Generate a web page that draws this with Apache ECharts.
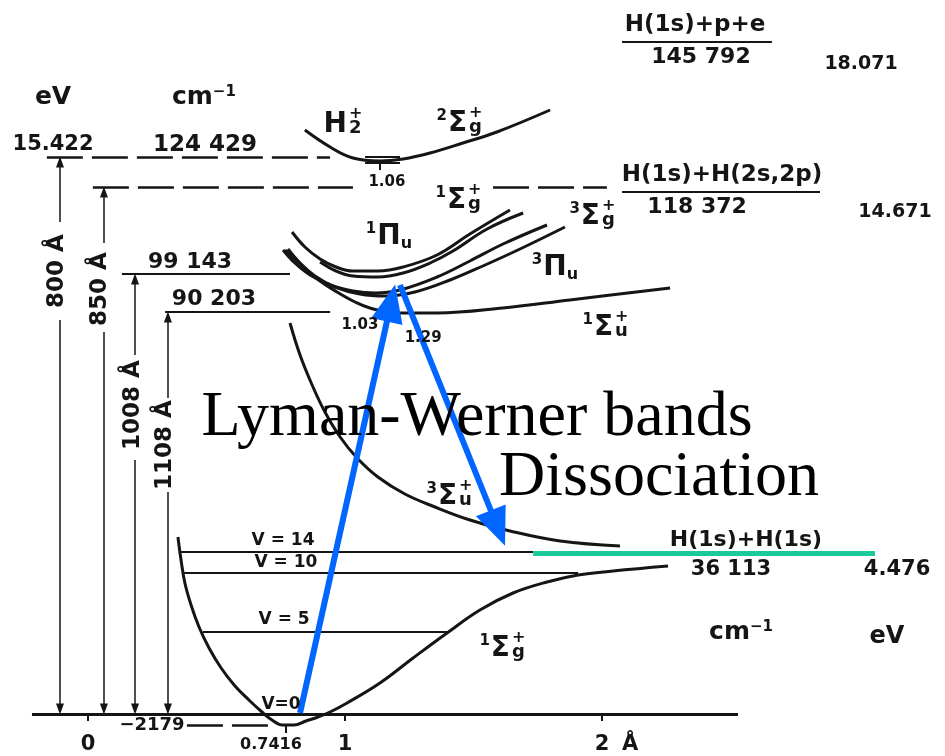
<!DOCTYPE html>
<html>
<head>
<meta charset="utf-8">
<title>H2 potential curves</title>
<script src="https://cdn.jsdelivr.net/npm/echarts@6/dist/echarts.min.js"></script>
<style>
  html, body { margin: 0; padding: 0; background: #fff; }
  #chart { width: 945px; height: 756px; }
</style>
</head>
<body>
<div id="chart"></div>
<script>
// x = internuclear distance (Å), y = energy above v=0 of the ground state (cm-1)
// values

var groundX = [[0.350, 39506], [0.362, 34373], [0.377, 29239], [0.401, 24329], [0.432, 19418],
  [0.471, 14731], [0.518, 10267], [0.572, 6250], [0.626, 3125], [0.677, 446], [0.716, -1339],
  [0.755, -2455], [0.802, -2455], [0.848, -1562], [0.895, -670], [0.942, 446], [1.008, 2455],
  [1.136, 6919], [1.265, 12499], [1.397, 18079], [1.525, 23213], [1.654, 27007], [1.786, 29462],
  [1.907, 31025], [2.043, 31918], [2.257, 33034]];
var tripletU = [[0.786, 87271], [0.825, 80129], [0.872, 73433], [0.922, 67406], [0.981, 61826],
  [1.047, 57139], [1.128, 52898], [1.233, 49104], [1.350, 46202], [1.486, 43301], [1.642, 40846],
  [1.837, 38614], [2.070, 37498]];
var singletSigmaU = [[0.767, 103565], [0.837, 99770], [0.903, 96646], [0.969, 94190], [1.039, 91958],
  [1.097, 90619], [1.202, 89503], [1.358, 89503], [1.615, 90619], [1.875, 92405], [2.265, 95083]];
var singletPiU = [[0.794, 107582], [0.844, 104234], [0.903, 101556], [0.965, 99770], [1.031, 98878],
  [1.128, 98878], [1.226, 99770], [1.358, 102449], [1.486, 107136], [1.642, 112493]];
var singletSigmaG = [[0.903, 100886], [0.965, 98878], [1.031, 97762], [1.128, 97538], [1.226, 98431],
  [1.331, 100663], [1.420, 103342], [1.553, 108252], [1.693, 111823]];
var tripletPiU = [[0.759, 103565], [0.805, 100663], [0.864, 97985], [0.942, 95753], [1.031, 94414],
  [1.117, 93967], [1.214, 94637], [1.358, 97538], [1.486, 101110], [1.615, 104904], [1.786, 109145]];
var tripletSigmaG = [[0.778, 103788], [0.825, 100663], [0.883, 97762], [0.961, 95306], [1.058, 93744],
  [1.156, 93298], [1.272, 94190], [1.409, 96869], [1.545, 100217], [1.681, 103788], [1.856, 108698]];
var ionCurve = [[0.844, 130349], [0.942, 126554], [1.031, 124099], [1.136, 123430], [1.226, 123876],
  [1.331, 125215], [1.459, 127447], [1.591, 129902], [1.798, 134813]];

// horizontal levels: [energy, from R, to R, width]
var solidLevels = [
  [0, -0.218, 2.529, 3],        // v = 0
  [36158, 0.362, 1.732, 2],     // v = 14
  [31471, 0.366, 1.907, 2],     // v = 10
  [18302, 0.447, 1.397, 2],     // v = 5
  [98208, 0.132, 0.786, 2],     // 99 143
  [89726, 0.300, 0.942, 2],     // 90 203
  [116510, 2.078, 2.848, 2],    // H(1s)+H(2s,2p)
  [149990, 2.078, 2.661, 2],    // H(1s)+p+e
  [124322, 1.078, 1.214, 2],    // H2+ v=0 box
  [122983, 1.078, 1.214, 2]
];
var dashedLevels = [
  [124322, -0.160, 0.942],
  [117626, 0.019, 1.031],
  [117626, 1.576, 2.019],
  [-2455, 0.385, 0.700]
];
var minTicks = [[1.136, 122983, 121421], [0.770, -2455, -4241]];

// wavelength arrows: x, top level, gap top, gap bottom
var arrowX = [-0.109, 0.062, 0.183, 0.311];
var arrowTopE = [124322, 117626, 98208, 89726];
var arrowGapTop = [109814, 105127, 80129, 70531];
var arrowGapBottom = [87941, 85262, 56693, 49550];
var arrowNames = ['800 Å', '850 Å', '1008 Å', '1108 Å'];
var arrowNameX = [-0.121, 0.047, 0.175, 0.300];
var arrowNameE = [98878, 94860, 68969, 60041];

var lymanArrow = [[0.825, 223], [1.179, 91735]];
var dissocArrow = [[1.214, 95753], [1.595, 41515]];
var dissocLimit = [[1.732, 35935], [3.062, 35935]];

var tickValues = [0, 1, 2];
var tickLabelE = -6919;

// plain texts: [text, R, E, size]
var texts = [
  ['eV', -0.136, 137714, 25], ['{n|cm}{s|−1}', 0.451, 137714, 25],
  ['15.422', -0.136, 127001, 21], ['124 429', 0.455, 127001, 23],
  ['99 143', 0.397, 100886, 22], ['90 203', 0.490, 92628, 22],
  ['H(1s)+p+e', 2.362, 153785, 23], ['145 792', 2.385, 146642, 22], ['18.071', 3.008, 145080, 19],
  ['H(1s)+H(2s,2p)', 2.467, 120305, 23], ['118 372', 2.370, 113162, 22], ['14.671', 3.140, 112046, 19],
  ['H(1s)+H(1s)', 2.560, 38837, 22], ['36 113', 2.502, 32141, 21], ['4.476', 3.148, 32141, 21],
  ['{n|cm}{s|−1}', 2.541, 18302, 24], ['eV', 3.109, 17186, 24],
  ['1.03', 1.058, 86825, 15], ['1.29', 1.304, 83923, 15], ['1.06', 1.163, 118742, 15],
  ['V = 14', 0.759, 38614, 17], ['V = 10', 0.770, 33703, 17], ['V = 5', 0.763, 20981, 17],
  ['V=0', 0.751, 2009, 17], ['−2179', 0.249, -2455, 18], ['0.7416', 0.712, tickLabelE, 16],
  ['Å', 2.109, tickLabelE, 21]
];

// term symbols: [left superscript, letter, upper right, lower right, R, E]
var terms = [
  ['1', 'Σ', '+', 'g', 1.471, 114502],
  ['3', 'Σ', '+', 'g', 1.992, 110930],
  ['1', 'Σ', '+', 'u', 2.043, 86155],
  ['3', 'Σ', '+', 'u', 1.436, 48434],
  ['1', 'Σ', '+', 'g', 1.642, 14508],
  ['2', 'Σ', '+', 'g', 1.475, 131688],
  ['', 'H', '+', '2', 1.008, 131465]
];
var piTerms = [['1', 'Π', 'u', 1.171, 106466], ['3', 'Π', 'u', 1.817, 99547]];

var bigTexts = [['Lyman-Werner bands', 1.514, 66067], ['Dissociation', 2.222, 52675]];

var FONT = 'DejaVu Sans';
var INK = '#151515';
var BLUE = '#0066ff';

var chart = echarts.init(document.getElementById('chart'));

function curve(pts) {
  return {
    type: 'line', data: pts, smooth: 0.4, symbol: 'none', clip: false, silent: true, z: 3,
    lineStyle: { color: INK, width: 3 }
  };
}

var richStyles = {
  n: { fontSize: 25, fontFamily: FONT, fontWeight: 'bold', color: INK },
  s: { fontSize: 15, fontFamily: FONT, fontWeight: 'bold', color: INK, verticalAlign: 'top' },
  a: { fontSize: 15, fontFamily: FONT, fontWeight: 'bold', color: INK, verticalAlign: 'top', padding: [0, 1, 0, 0] },
  b: { fontSize: 28, fontFamily: FONT, fontWeight: 'bold', color: INK, lineHeight: 30 },
  u: { fontSize: 16, fontFamily: FONT, fontWeight: 'bold', color: INK, verticalAlign: 'bottom' },
  p: { fontSize: 16, fontFamily: FONT, fontWeight: 'bold', color: INK, lineHeight: 13 },
  q: { fontSize: 18, fontFamily: FONT, fontWeight: 'bold', color: INK, lineHeight: 16 }
};

function textItem(t, r, e, size, extra) {
  var label = {
    show: true, position: 'inside', formatter: t, fontSize: size, fontFamily: FONT,
    fontWeight: 'bold', color: INK, align: 'center', verticalAlign: 'middle', rich: richStyles
  };
  if (extra) { for (var k in extra) { label[k] = extra[k]; } }
  return { value: [r, e], label: label };
}

var textData = texts.map(function (t) { return textItem(t[0], t[1], t[2], t[3]); });
tickValues.forEach(function (v) {
  textData.push(textItem(String(v), v, tickLabelE, 21));
});
arrowNames.forEach(function (n, i) {
  textData.push(textItem(n, arrowNameX[i], arrowNameE[i], 23, { rotate: 90 }));
});
terms.forEach(function (t) {
  var main = (t[0] ? '{a|' + t[0] + '}' : '') + '{b|' + t[1] + '}';
  textData.push(textItem(main, t[4], t[5], 28, { align: 'right' }));
  textData.push(textItem('{p|' + t[2] + '}\n{q|' + t[3] + '}', t[4], t[5], 16, { align: 'left', offset: [2, -3] }));
});
piTerms.forEach(function (t) {
  textData.push(textItem('{a|' + t[0] + '}{b|' + t[1] + '}{u|' + t[2] + '}', t[3], t[4], 28));
});
bigTexts.forEach(function (t) {
  textData.push(textItem(t[0], t[1], t[2], 64, { fontFamily: 'Liberation Serif', fontWeight: 'normal', color: '#000' }));
});

var levelLines = solidLevels.map(function (l) {
  return { coords: [[l[1], l[0]], [l[2], l[0]]], lineStyle: { width: l[3] } };
});
minTicks.forEach(function (t) {
  levelLines.push({ coords: [[t[0], t[1]], [t[0], t[2]]], lineStyle: { width: 2 } });
});
var dashLines = dashedLevels.map(function (l) {
  return { coords: [[l[1], l[0]], [l[2], l[0]]] };
});

var HEAD = 1100; // arrowhead half length, in cm-1
var arrowLines = [];
arrowX.forEach(function (x, i) {
  arrowLines.push({ coords: [[x, arrowGapTop[i]], [x, arrowTopE[i] - HEAD]] });
  arrowLines.push({ coords: [[x, arrowGapBottom[i]], [x, HEAD]] });
});

var option = {
  animation: false,
  grid: { left: 0, right: 0, top: 0, bottom: 0, containLabel: false, outerBoundsMode: 'none' },
  xAxis: {
    type: 'value', min: -0.3424, max: 3.3346,
    axisLine: { show: false, onZero: true },
    splitLine: { show: false },
    axisTick: { show: true, customValues: tickValues, length: 7, lineStyle: { color: INK, width: 2 } },
    axisLabel: { show: false }
  },
  yAxis: { type: 'value', min: -9374, max: 159365, show: false, splitLine: { show: false } },
  series: [
    curve(groundX), curve(tripletU), curve(singletSigmaU), curve(singletPiU), curve(singletSigmaG),
    curve(tripletPiU), curve(tripletSigmaG), curve(ionCurve),
    {
      type: 'lines', coordinateSystem: 'cartesian2d', data: levelLines, silent: true, z: 2,
      lineStyle: { color: INK, width: 2, opacity: 1 }
    },
    {
      type: 'lines', coordinateSystem: 'cartesian2d', data: dashLines, silent: true, z: 2,
      lineStyle: { color: INK, width: 2.5, type: [36, 9], opacity: 1 }
    },
    {
      type: 'lines', coordinateSystem: 'cartesian2d', data: arrowLines, silent: true, z: 2,
      symbol: ['none', 'triangle'], symbolSize: [[8, 11], [8, 11]],
      lineStyle: { color: INK, width: 1.5, opacity: 1 }
    },
    {
      type: 'lines', coordinateSystem: 'cartesian2d', data: [{ coords: dissocLimit }], silent: true, z: 4,
      lineStyle: { color: '#1cc99b', width: 5, opacity: 1 }
    },
    {
      type: 'lines', coordinateSystem: 'cartesian2d', silent: true, z: 6,
      data: [{ coords: lymanArrow }, { coords: dissocArrow }],
      symbol: ['none', 'triangle'], symbolSize: [[32, 38], [32, 38]],
      itemStyle: { color: BLUE },
      lineStyle: { color: BLUE, width: 6, opacity: 1 }
    },
    {
      type: 'scatter', data: textData, symbolSize: 1, silent: true, z: 10,
      itemStyle: { color: 'transparent', opacity: 1 }
    }
  ]
};
chart.setOption(option);
</script>
</body>
</html>
